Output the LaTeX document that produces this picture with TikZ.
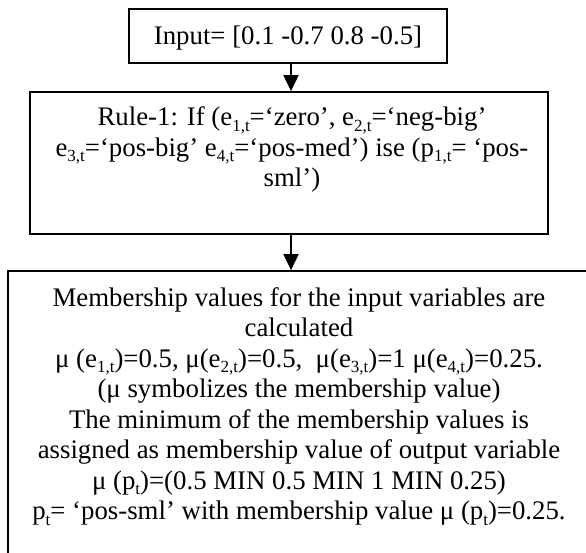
\documentclass[tikz,border=0pt]{standalone}
\usepackage{fontspec}
\setmainfont{Liberation Serif}
\usetikzlibrary{arrows.meta}
\newcommand\sbs[1]{\raisebox{-0.2em}{\fontsize{17}{17}\selectfont #1}}
\begin{document}
\begin{tikzpicture}[x=1pt,y=1pt,
  boxed/.style={draw, line width=1.7pt, inner sep=0pt},
  txt/.style={align=center, font=\fontsize{26.8}{30.5}\selectfont, inner sep=0pt},
  arr/.style={line width=1.9pt, -{Triangle[length=16pt,width=15pt]}}]
\useasboundingbox (0,0) rectangle (586,553);
\clip (0,0) rectangle (586,553);
% boxes (y = 553 - image y)
\node[boxed, minimum width=318pt, minimum height=54pt] (inp) at (288,517) {};
\node[boxed, minimum width=518pt, minimum height=142pt] (rule) at (289,390) {};
\node[boxed, minimum width=582pt, minimum height=360pt] (mem) at (299,102) {};
% texts
\node[txt] (inptxt) at (288,515) {Input= [0.1 -0.7 0.8 -0.5]};
\node[txt] (ruletxt) at (292,403.3) {Rule-1: If (e\sbs{1,t}=‘zero’, e\sbs{2,t}=‘neg-big’\\
e\sbs{3,t}=‘pos-big’ e\sbs{4,t}=‘pos-med’) ise (p\sbs{1,t}= ‘pos-\\
sml’)};
\node[txt] (memtxt) at (299,146.5) {Membership values for the input variables are\\
calculated\\
μ (e\sbs{1,t})=0.5, μ(e\sbs{2,t})=0.5, \ μ(e\sbs{3,t})=1 μ(e\sbs{4,t})=0.25.\\
(μ symbolizes the membership value)\\
The minimum of the membership values is\\
assigned as membership value of output variable\\
μ (p\sbs{t})=(0.5 MIN 0.5 MIN 1 MIN 0.25)\\
p\sbs{t}= ‘pos-sml’ with membership value μ (p\sbs{t})=0.25.};
% connectors
\draw[arr] ([xshift=3pt]inp.south) -- ([xshift=3pt]inp.south |- rule.north);
\draw[arr] ([xshift=2pt]rule.south) -- ([xshift=2pt]rule.south |- mem.north);
\end{tikzpicture}
\end{document}
